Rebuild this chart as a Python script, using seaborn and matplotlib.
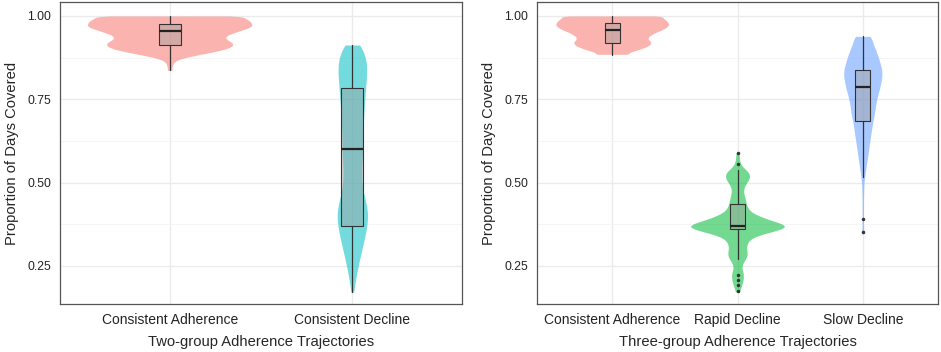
import numpy as np
import pandas as pd
import seaborn as sns
import matplotlib.pyplot as plt
from matplotlib.ticker import MultipleLocator

sns.set_style("whitegrid")
plt.rcParams['font.family'] = ['Liberation Sans', 'DejaVu Sans']

# categories
two_groups = ["Consistent Adherence", "Consistent Decline"]
three_groups = ["Consistent Adherence", "Rapid Decline", "Slow Decline"]

# violin profiles: PDC level -> relative density (violin width)
ca2_pdc = [1.000, 0.995, 0.990, 0.985, 0.980, 0.975, 0.970, 0.965, 0.960, 0.955,
           0.950, 0.945, 0.940, 0.935, 0.930, 0.925, 0.920, 0.915, 0.910, 0.905,
           0.900, 0.895, 0.890, 0.885, 0.880, 0.875, 0.870, 0.865, 0.860, 0.855,
           0.850, 0.845, 0.840, 0.837]
ca2_dens = [80, 74, 78, 81, 82, 83, 83, 80, 75, 70,
            65, 60, 57, 56, 57, 60, 63, 64, 63, 60,
            55, 48, 40, 31, 23, 15, 9, 6, 4, 3,
            3, 2, 2, 2]

cd2_pdc = [0.913, 0.89, 0.87, 0.85, 0.83, 0.81, 0.79, 0.77, 0.75, 0.73,
           0.71, 0.69, 0.67, 0.65, 0.63, 0.61, 0.59, 0.57, 0.55, 0.53,
           0.51, 0.49, 0.47, 0.45, 0.43, 0.41, 0.39, 0.37, 0.35, 0.33,
           0.31, 0.29, 0.27, 0.25, 0.23, 0.21, 0.19, 0.172]
cd2_dens = [10, 12, 13.5, 14, 14, 13.5, 13, 12.5, 12, 11.5,
            11, 11, 10.5, 10, 10, 10, 10, 9.5, 9, 9,
            9, 9.5, 10.5, 12.5, 14, 15, 15, 14, 13, 11.5,
            10, 8.5, 7, 5.5, 4.5, 3, 2, 1.5]

ca3_pdc = [1.000, 0.995, 0.990, 0.985, 0.980, 0.975, 0.970, 0.965, 0.960, 0.955,
           0.950, 0.945, 0.940, 0.935, 0.930, 0.925, 0.920, 0.915, 0.910, 0.905,
           0.900, 0.895, 0.890, 0.885]
ca3_dens = [54, 50, 53, 55, 56, 57, 56, 54, 51, 47,
            43, 40, 37, 36, 36, 38, 39, 38, 36, 32,
            27, 22, 16, 18]

rd3_pdc = [0.59, 0.58, 0.57, 0.56, 0.55, 0.54, 0.53, 0.52, 0.51, 0.50,
           0.49, 0.48, 0.47, 0.46, 0.45, 0.44, 0.43, 0.42, 0.41, 0.40,
           0.39, 0.38, 0.37, 0.36, 0.35, 0.34, 0.33, 0.32, 0.31, 0.30,
           0.29, 0.28, 0.27, 0.26, 0.25, 0.24, 0.23, 0.22, 0.21, 0.20,
           0.19, 0.18, 0.172]
rd3_dens = [2, 1.5, 2, 2.5, 4, 8, 12, 12.5, 12, 9,
            7, 6, 6, 7, 8, 8.5, 9.5, 11, 14, 22,
            30, 42, 53, 45, 30, 18, 12, 10, 9, 9,
            10, 10, 8, 5.5, 4, 4.5, 6, 6, 6, 5,
            4, 2.5, 2]

sd3_pdc = [0.939, 0.92, 0.90, 0.88, 0.86, 0.84, 0.82, 0.80, 0.78, 0.76,
           0.74, 0.72, 0.70, 0.68, 0.66, 0.64, 0.62, 0.60, 0.58, 0.56,
           0.54, 0.52, 0.50, 0.48, 0.46, 0.44, 0.42, 0.40, 0.38, 0.36,
           0.353]
sd3_dens = [8, 10, 13, 15.5, 17.5, 19.5, 19.7, 18.5, 17, 15,
            13.5, 12.5, 11.5, 10, 9, 8, 7, 6, 5, 4,
            3, 2, 1.2, 1, 0.8, 0.7, 0.7, 0.7, 0.7, 0.7,
            0.7]

# box summaries: whislo, q1, median, q3, whishi, outliers
box2 = {
    "Consistent Adherence": (0.837, 0.914, 0.955, 0.977, 1.000, []),
    "Consistent Decline": (0.172, 0.370, 0.602, 0.785, 0.913, []),
}
box3 = {
    "Consistent Adherence": (0.884, 0.920, 0.957, 0.980, 1.000, []),
    "Rapid Decline": (0.270, 0.362, 0.370, 0.437, 0.537,
                      [0.590, 0.557, 0.222, 0.209, 0.194, 0.174]),
    "Slow Decline": (0.518, 0.684, 0.786, 0.837, 0.939, [0.390, 0.353]),
}

pal2 = ["#F8766D", "#00BFC4"]
pal3 = ["#F8766D", "#00BA38", "#619CFF"]


def profile_frame(groups, profiles):
    rows = []
    for g, (lev, dens) in zip(groups, profiles):
        reps = np.round(np.array(dens) * 10).astype(int)
        vals = np.repeat(lev, reps)
        rows.append(pd.DataFrame({"group": g, "pdc": vals}))
    return pd.concat(rows, ignore_index=True)


df2 = profile_frame(two_groups, [(ca2_pdc, ca2_dens), (cd2_pdc, cd2_dens)])
df3 = profile_frame(three_groups, [(ca3_pdc, ca3_dens), (rd3_pdc, rd3_dens),
                                   (sd3_pdc, sd3_dens)])

fig = plt.figure(figsize=(9.41, 3.52), dpi=100)
ax1 = fig.add_axes([60 / 941, 1 - 304 / 352, 402 / 941, 302 / 352])
ax2 = fig.add_axes([537 / 941, 1 - 304 / 352, 401 / 941, 302 / 352])


def draw(ax, df, groups, pal, boxes, xlabel):
    sns.violinplot(data=df, x="group", y="pdc", hue="group", order=groups,
                   hue_order=groups, palette=pal, saturation=1, inner=None,
                   cut=0, bw_method=0.1, density_norm="area", common_norm=True,
                   width=0.9, linewidth=0, alpha=0.55, legend=False, ax=ax)
    stats = []
    for g in groups:
        lo, q1, med, q3, hi, fl = boxes[g]
        stats.append(dict(whislo=lo, q1=q1, med=med, q3=q3, whishi=hi, fliers=fl))
    ax.bxp(stats, positions=range(len(groups)), widths=0.12, patch_artist=True,
           showcaps=False,
           boxprops=dict(facecolor=(0.62, 0.62, 0.62, 0.45), edgecolor="#333333",
                         linewidth=0.8),
           medianprops=dict(color="#222222", linewidth=1.6),
           whiskerprops=dict(color="#333333", linewidth=0.9),
           flierprops=dict(marker="o", markersize=1.5, markerfacecolor="#333333",
                           markeredgecolor="#333333"),
           manage_ticks=False, zorder=3)
    ax.set_xlim(-0.6, len(groups) - 0.4)
    ax.set_ylim(0.136, 1.042)
    ax.set_yticks([0.25, 0.50, 0.75, 1.00])
    ax.set_yticklabels(["0.25", "0.50", "0.75", "1.00"])
    ax.yaxis.set_minor_locator(MultipleLocator(0.125))
    ax.set_xticks(range(len(groups)))
    ax.set_xticklabels(groups)
    ax.grid(True, which="major", color="#EBEBEB", linewidth=1.0)
    ax.grid(True, which="minor", axis="y", color="#F4F4F4", linewidth=0.6)
    ax.set_axisbelow(True)
    for s in ax.spines.values():
        s.set_edgecolor("#555555")
        s.set_linewidth(0.9)
    ax.tick_params(axis="both", which="major", length=3.5, width=0.8, color="#333333",
                   labelcolor="#222222", pad=3)
    ax.tick_params(axis="x", labelsize=10)
    ax.tick_params(axis="y", labelsize=8.7)
    ax.tick_params(axis="y", which="minor", length=0)
    ax.set_xlabel(xlabel, fontsize=10.6, labelpad=6)
    ax.set_ylabel("Proportion of Days Covered", fontsize=10.6, labelpad=6)


draw(ax1, df2, two_groups, pal2, box2, "Two-group Adherence Trajectories")
draw(ax2, df3, three_groups, pal3, box3, "Three-group Adherence Trajectories")

fig.savefig("out.png", dpi=100)
